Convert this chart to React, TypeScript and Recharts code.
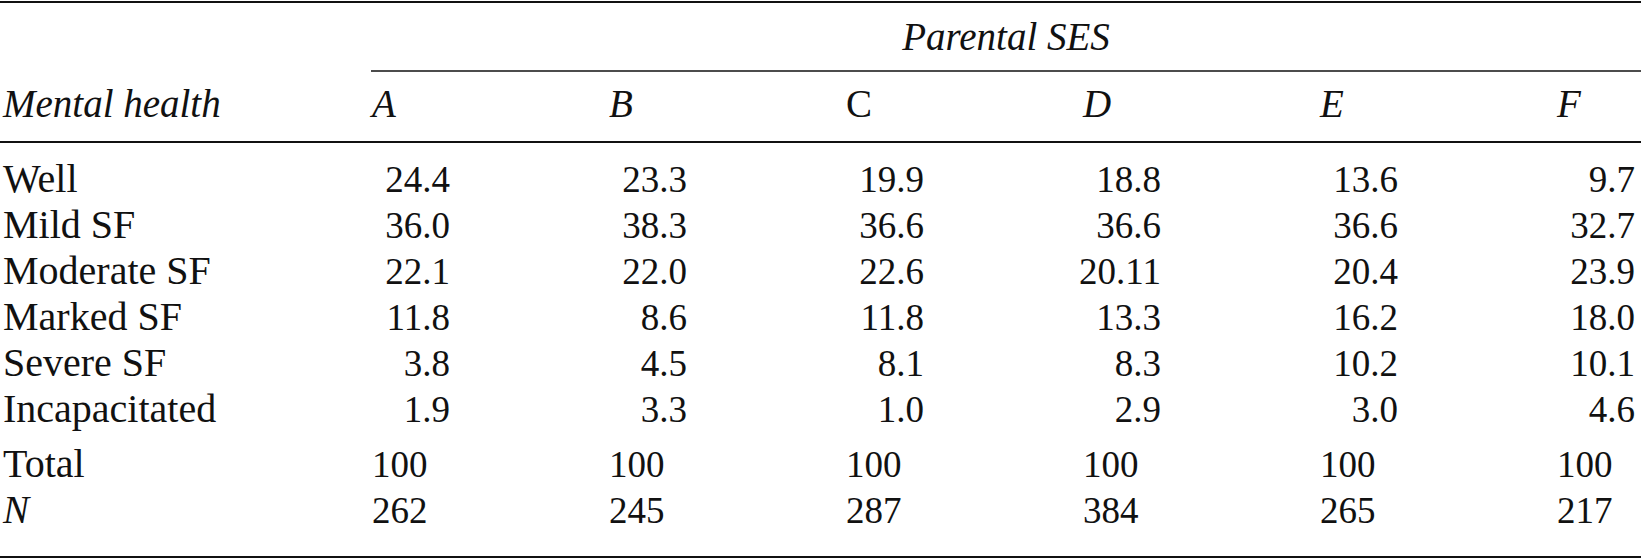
import React from 'react';
import { ScatterChart, Scatter, XAxis, YAxis, Customized } from 'recharts';

const COLUMNS = ['A', 'B', 'C', 'D', 'E', 'F'];
const PCT_ROWS = ['Well', 'Mild SF', 'Moderate SF', 'Marked SF', 'Severe SF', 'Incapacitated'];
const SUMMARY_ROWS = ['Total', 'N'];

const WELL = [24.4, 23.3, 19.9, 18.8, 13.6, 9.7];
const MILD_SF = [36.0, 38.3, 36.6, 36.6, 36.6, 32.7];
const MODERATE_SF = [22.1, 22.0, 22.6, 20.11, 20.4, 23.9];
const MARKED_SF = [11.8, 8.6, 11.8, 13.3, 16.2, 18.0];
const SEVERE_SF = [3.8, 4.5, 8.1, 8.3, 10.2, 10.1];
const INCAPACITATED = [1.9, 3.3, 1.0, 2.9, 3.0, 4.6];
const TOTAL = [100, 100, 100, 100, 100, 100];
const N_COUNTS = [262, 245, 287, 384, 265, 217];

const PCT_VALUES = [WELL, MILD_SF, MODERATE_SF, MARKED_SF, SEVERE_SF, INCAPACITATED];
const SUMMARY_VALUES = [TOTAL, N_COUNTS];

// layout
const W = 1641;
const H = 560;
const FONT = '"Liberation Serif", "Times New Roman", serif';
const INK = '#111';
const LABEL_X = 3;
const HEADER_Y = 117;
const CELL_W = 78; // percentages are right aligned inside the cell
const SUMMARY_GAP = 9;

const fmtPct = (v: number) => (Number.isInteger(v) ? v.toFixed(1) : String(v));

const cells: { col: number; row: number; text: string; kind: string }[] = [];
PCT_VALUES.forEach((vals, r) =>
  vals.forEach((v, c) => cells.push({ col: c, row: r, text: fmtPct(v), kind: 'pct' }))
);
SUMMARY_VALUES.forEach((vals, r) =>
  vals.forEach((v, c) =>
    cells.push({ col: c, row: PCT_ROWS.length + r, text: String(v), kind: 'summary' })
  )
);

const ROW_LABELS = [...PCT_ROWS, ...SUMMARY_ROWS];

const CellText = (props: any) => {
  const { cx, cy, payload } = props;
  if (cx == null || cy == null) return null;
  const pct = payload.kind === 'pct';
  return (
    <text
      x={pct ? cx + CELL_W : cx}
      y={pct ? cy : cy + SUMMARY_GAP}
      textAnchor={pct ? 'end' : 'start'}
      fontFamily={FONT}
      fontSize={37}
      fill={INK}
    >
      {payload.text}
    </text>
  );
};

const RowTick = (props: any) => {
  const { y, payload } = props;
  const i = payload.value;
  const label = ROW_LABELS[i];
  const summary = i >= PCT_ROWS.length;
  return (
    <text
      x={LABEL_X}
      y={summary ? y + SUMMARY_GAP : y}
      textAnchor="start"
      fontFamily={FONT}
      fontSize={label === 'N' ? 39 : 40}
      fontStyle={label === 'N' ? 'italic' : 'normal'}
      fill={INK}
    >
      {label}
    </text>
  );
};

const ColTick = (props: any) => {
  const { x, payload } = props;
  const name = COLUMNS[payload.value];
  return (
    <text
      x={x}
      y={HEADER_Y}
      textAnchor="start"
      fontFamily={FONT}
      fontSize={39}
      fontStyle={name === 'C' ? 'normal' : 'italic'}
      fill={INK}
    >
      {name}
    </text>
  );
};

const Rules = () => (
  <g>
    <line x1={0} x2={W} y1={2} y2={2} stroke={INK} strokeWidth={2} />
    <text x={1006} y={50} textAnchor="middle" fontFamily={FONT} fontSize={39} fontStyle="italic" fill={INK}>
      Parental SES
    </text>
    <line x1={371} x2={W} y1={71} y2={71} stroke={INK} strokeWidth={1.6} />
    <text x={LABEL_X} y={HEADER_Y} fontFamily={FONT} fontSize={39} fontStyle="italic" fill={INK}>
      Mental health
    </text>
    <line x1={0} x2={W} y1={142} y2={142} stroke={INK} strokeWidth={2} />
    <line x1={0} x2={W} y1={557} y2={557} stroke={INK} strokeWidth={2} />
  </g>
);

export default function App() {
  return (
    <div style={{ position: 'absolute', left: 0, top: 0, width: W, height: H, background: '#fff' }}>
      <ScatterChart width={W} height={H} margin={{ top: 42, right: 84, bottom: 46, left: 0 }}>
        <XAxis
          xAxisId={0}
          type="number"
          dataKey="col"
          orientation="top"
          domain={[0, COLUMNS.length - 1]}
          ticks={COLUMNS.map((_, i) => i)}
          interval={0}
          height={150}
          axisLine={false}
          tickLine={false}
          tick={<ColTick />}
        />
        <YAxis
          yAxisId={0}
          type="number"
          dataKey="row"
          reversed
          domain={[0, ROW_LABELS.length - 1]}
          ticks={ROW_LABELS.map((_, i) => i)}
          interval={0}
          width={372}
          axisLine={false}
          tickLine={false}
          tick={<RowTick />}
        />
        <Scatter data={cells} shape={<CellText />} isAnimationActive={false} />
        <Customized component={Rules} />
      </ScatterChart>
    </div>
  );
}
